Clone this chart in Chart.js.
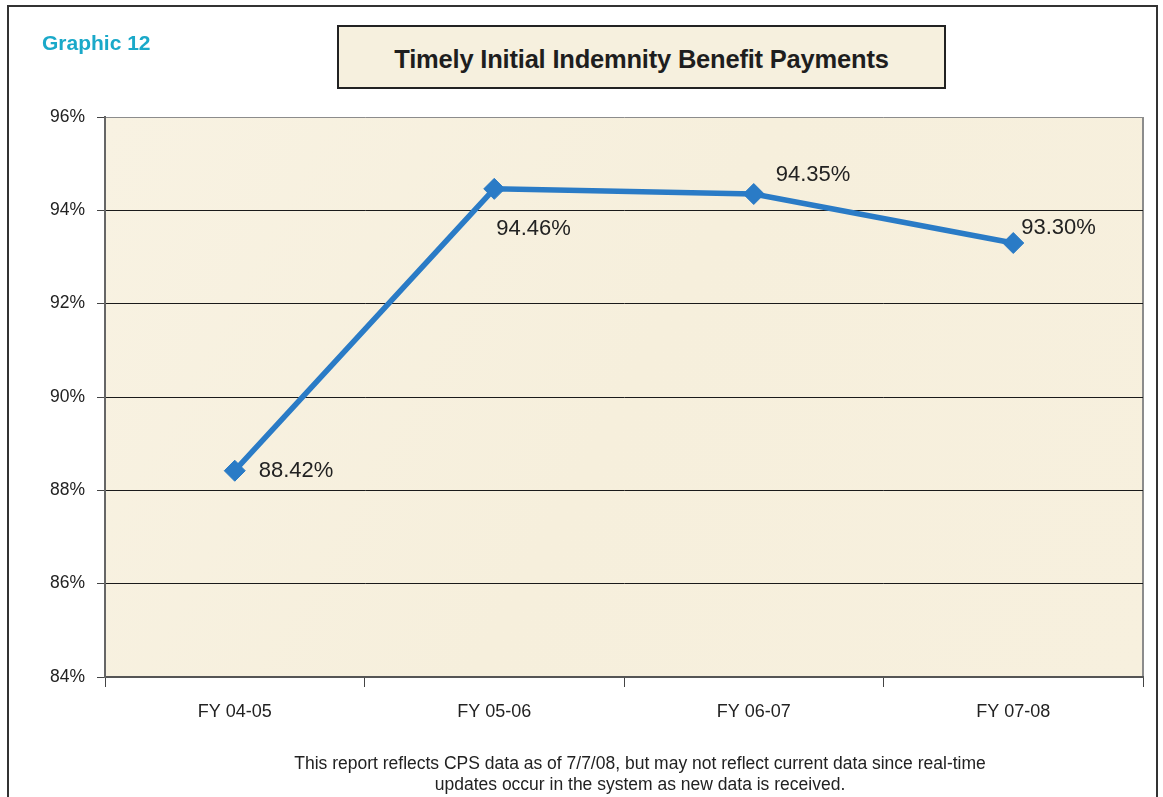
<!DOCTYPE html>
<html>
<head>
<meta charset="utf-8">
<script src="https://cdn.jsdelivr.net/npm/chart.js@4/dist/chart.umd.min.js"></script>
<style>
  html, body { margin: 0; padding: 0; background: #ffffff; }
  #wrap { position: relative; width: 1163px; height: 797px; overflow: hidden; font-family: "Liberation Sans", Arial, sans-serif; }
  #frame { position: absolute; left: 7px; top: 5px; width: 1151px; height: 820px; border: 2px solid #333; box-sizing: border-box; }
  #graphic { position: absolute; left: 42px; top: 31px; font-size: 21px; font-weight: bold; color: #1aa9c9; }
  #titlebox { position: absolute; left: 337px; top: 25px; width: 609px; height: 64px; box-sizing: border-box; border: 2px solid #222; background: #f6f0de; display: flex; align-items: center; justify-content: center; font-size: 25.5px; font-weight: bold; color: #1e1e1e; letter-spacing: -0.2px; padding-top: 4px; }
  #note { position: absolute; left: 190px; width: 900px; top: 753px; text-align: center; font-size: 17.5px; line-height: 21px; color: #222; }
  canvas { position: absolute; left: 0; top: 0; }
</style>
</head>
<body>
<div id="wrap">
  <canvas id="c" width="1163" height="797"></canvas>
  <div id="frame"></div>
  <div id="graphic">Graphic 12</div>
  <div id="titlebox">Timely Initial Indemnity Benefit Payments</div>
  <div id="note">This report reflects CPS data as of 7/7/08, but may not reflect current data since real-time<br>updates occur in the system as new data is received.</div>
</div>
<script>
// ---- data ----
const categories = ['FY 04-05', 'FY 05-06', 'FY 06-07', 'FY 07-08'];
const timelyPct = [88.42, 94.46, 94.35, 93.30];
const pointLabels = ['88.42%', '94.46%', '94.35%', '93.30%'];
const yMin = 84;
const yMax = 96;
const yStep = 2;

// label placement relative to each point (styling, not data)
const labelOffsets = [[24, 0], [2, 40], [22, -19], [8, -15]];

const plotBg = {
  id: 'plotBg',
  beforeDraw(chart) {
    const { ctx, chartArea: a } = chart;
    ctx.save();
    const g = ctx.createLinearGradient(a.left, a.top, a.right, a.bottom);
    g.addColorStop(0, '#f8f2e2');
    g.addColorStop(0.5, '#f6efdc');
    g.addColorStop(1, '#f7f0de');
    ctx.fillStyle = g;
    ctx.fillRect(a.left, a.top, a.right - a.left, a.bottom - a.top);
    ctx.strokeStyle = '#8c8c8c';
    ctx.lineWidth = 2;
    ctx.beginPath();
    ctx.moveTo(a.right, a.top);
    ctx.lineTo(a.right, a.bottom);
    ctx.stroke();
    ctx.restore();
  }
};

const valueLabels = {
  id: 'valueLabels',
  afterDatasetsDraw(chart) {
    const { ctx } = chart;
    const meta = chart.getDatasetMeta(0);
    ctx.save();
    ctx.font = '22px "Liberation Sans", Arial, sans-serif';
    ctx.fillStyle = '#222';
    ctx.textAlign = 'left';
    ctx.textBaseline = 'middle';
    meta.data.forEach((pt, i) => {
      const [dx, dy] = labelOffsets[i];
      ctx.fillText(pointLabels[i], pt.x + dx, pt.y + dy);
    });
    ctx.restore();
  }
};

new Chart(document.getElementById('c'), {
  type: 'line',
  data: {
    labels: categories,
    datasets: [{
      data: timelyPct,
      borderColor: '#2a7bc6',
      backgroundColor: '#2a7bc6',
      borderWidth: 5.5,
      tension: 0,
      pointStyle: 'rectRot',
      pointRadius: 10.5,
      pointHoverRadius: 10.5,
      pointBorderWidth: 1,
      pointBorderColor: '#2a7bc6',
      pointBackgroundColor: '#2a7bc6'
    }]
  },
  options: {
    responsive: false,
    animation: false,
    layout: { padding: { left: 20, right: 20, top: 117, bottom: 70 } },
    plugins: { legend: { display: false }, tooltip: { enabled: false }, title: { display: false } },
    scales: {
      x: {
        offset: true,
        grid: { offset: true, drawOnChartArea: false, drawTicks: true, tickLength: 10, tickColor: '#444', lineWidth: 1 },
        border: { display: true, color: '#555', width: 2 },
        ticks: { color: '#222', font: { family: '"Liberation Sans", Arial, sans-serif', size: 18 }, padding: 14, maxRotation: 0 },
        afterFit(scale) { scale.height = 50; }
      },
      y: {
        min: yMin,
        max: yMax,
        ticks: {
          stepSize: yStep,
          color: '#222',
          padding: 12,
          font: { family: '"Liberation Sans", Arial, sans-serif', size: 17.5 },
          callback: (v) => v + '%'
        },
        grid: {
          drawTicks: true,
          tickLength: 8,
          tickColor: '#444',
          lineWidth: 1,
          color: (ctx) => {
            const v = ctx.tick && ctx.tick.value;
            if (v === yMax) return '#8c8c8c';
            if (v === yMin) return 'rgba(0,0,0,0)';
            return '#1a1a1a';
          }
        },
        border: { display: true, color: '#666', width: 2 },
        afterFit(scale) { scale.width = 85; }
      }
    }
  },
  plugins: [plotBg, valueLabels]
});
</script>
</body>
</html>
